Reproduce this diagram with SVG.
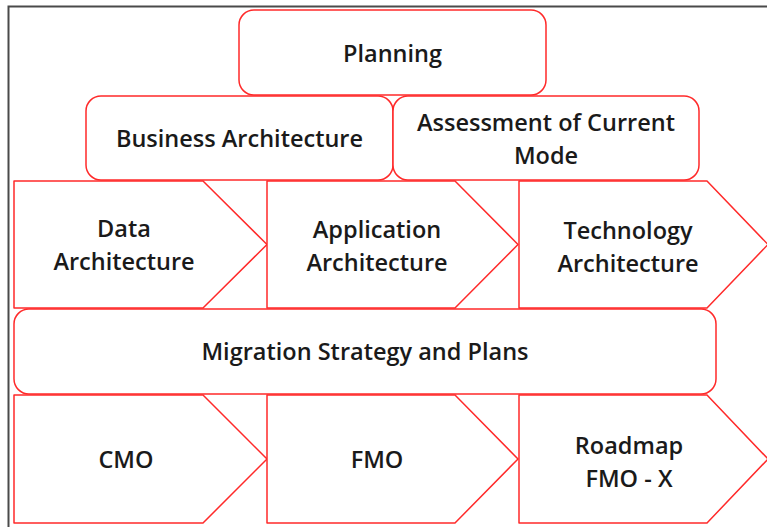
<svg xmlns="http://www.w3.org/2000/svg" width="767" height="527" viewBox="0 0 767 527">
  <style>
    .box { fill: #ffffff; stroke: #ff2a2a; stroke-width: 1.5; stroke-linejoin: round; }
    .lbl { font-family: "Open Sans", "Liberation Sans", sans-serif; font-size: 23.5px; font-weight: 600; fill: #1a1a1a; text-anchor: middle; }
    .frame { fill: none; stroke: #4a4a4a; stroke-width: 2; }
  </style>
  <rect x="0" y="0" width="767" height="527" fill="#ffffff"/>
  <path class="frame" d="M8.5,527 L8.5,6.5 L767,6.5"/>

  <g id="planning">
    <rect class="box" x="239" y="10" width="307" height="85" rx="15" ry="15"/>
    <text class="lbl" x="392.5" y="62">Planning</text>
  </g>

  <g id="business-architecture">
    <rect class="box" x="86" y="96" width="307" height="84" rx="15" ry="15"/>
    <text class="lbl" x="239.5" y="147">Business Architecture</text>
  </g>

  <g id="assessment-current-mode">
    <rect class="box" x="393" y="96" width="306" height="84" rx="15" ry="15"/>
    <text class="lbl" x="546" y="131">Assessment of Current</text>
    <text class="lbl" x="546" y="164">Mode</text>
  </g>

  <g id="data-architecture">
    <path class="box" d="M14,181 L203,181 L267,244.5 L203,308 L14,308 Z"/>
    <text class="lbl" x="124" y="237">Data</text>
    <text class="lbl" x="124" y="270">Architecture</text>
  </g>

  <g id="application-architecture">
    <path class="box" d="M267,181 L455,181 L518,244.5 L455,308 L267,308 Z"/>
    <text class="lbl" x="377" y="238">Application</text>
    <text class="lbl" x="377" y="271">Architecture</text>
  </g>

  <g id="technology-architecture">
    <path class="box" d="M519,181 L707,181 L768,244.5 L707,308 L519,308 Z"/>
    <text class="lbl" x="628" y="239">Technology</text>
    <text class="lbl" x="628" y="272">Architecture</text>
  </g>

  <g id="migration-strategy">
    <rect class="box" x="14" y="309" width="702" height="85" rx="15" ry="15"/>
    <text class="lbl" x="365" y="360">Migration Strategy and Plans</text>
  </g>

  <g id="cmo">
    <path class="box" d="M14,395 L203,395 L267,459 L203,523 L14,523 Z"/>
    <text class="lbl" x="126" y="468">CMO</text>
  </g>

  <g id="fmo">
    <path class="box" d="M267,395 L455,395 L518,459 L455,523 L267,523 Z"/>
    <text class="lbl" x="377" y="468">FMO</text>
  </g>

  <g id="roadmap-fmo-x">
    <path class="box" d="M519,395 L707,395 L768,459 L707,523 L519,523 Z"/>
    <text class="lbl" x="629" y="454">Roadmap</text>
    <text class="lbl" x="629" y="487">FMO - X</text>
  </g>

  <g id="connectors"/>
</svg>
